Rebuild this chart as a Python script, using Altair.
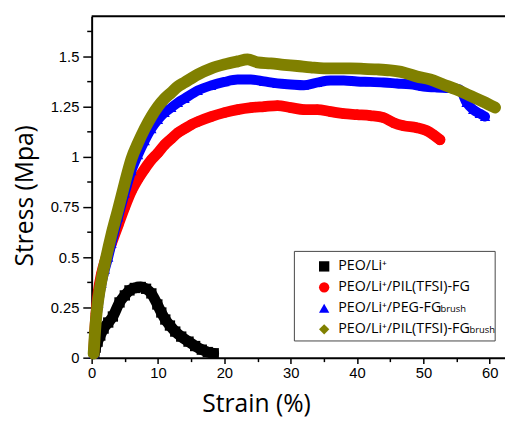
import altair as alt
import pandas as pd

# ---------------- data ----------------
series_keys = ["PEO", "PIL-FG", "PEG-FG-brush", "PIL-FG-brush"]
series_labels = [
    "PEO/Li\u207a",
    "PEO/Li\u207a/PIL(TFSI)-FG",
    "PEO/Li\u207a/PEG-FG",
    "PEO/Li\u207a/PIL(TFSI)-FG",
]
series_colors = ["#000000", "#ff0000", "#0000ff", "#808000"]
series_shapes = ["square", "circle", "triangle-up", "diamond"]
subscript_labels = ["brush", "brush"]

strain_peo = [0.4, 0.6, 0.9, 1.3, 1.8, 2.5, 3.2, 4.2, 5.0, 5.7, 6.5, 7.4, 8.2, 9.0,
              9.9, 10.5, 11.1, 11.8, 12.6, 13.5, 14.6, 15.6, 16.6, 17.5, 18.4]
stress_peo = [0.02, 0.05, 0.08, 0.11, 0.145, 0.175, 0.205, 0.275, 0.31, 0.335, 0.347,
              0.352, 0.343, 0.32, 0.265, 0.225, 0.19, 0.16, 0.13, 0.105, 0.08, 0.058,
              0.04, 0.028, 0.022]

strain_pil = [0.3, 0.45, 0.65, 1.0, 1.5, 2.0, 3.0, 4.0, 5.0, 6.0, 7.0, 8.0, 9.0, 10.0,
              11.0, 12.0, 13.0, 14.0, 15.0, 16.0, 18.0, 20.0, 22.0, 24.0, 26.0, 28.0,
              30.0, 32.0, 34.0, 36.0, 38.0, 40.0, 42.0, 44.0, 45.5, 47.0, 49.0, 50.5,
              51.5, 52.5]
stress_pil = [0.02, 0.12, 0.22, 0.33, 0.42, 0.48, 0.57, 0.66, 0.75, 0.83, 0.89, 0.94,
              0.985, 1.02, 1.06, 1.09, 1.12, 1.14, 1.16, 1.175, 1.2, 1.22, 1.235, 1.245,
              1.25, 1.255, 1.245, 1.235, 1.235, 1.225, 1.215, 1.21, 1.205, 1.195, 1.17,
              1.155, 1.145, 1.13, 1.11, 1.085]

strain_peg = [0.3, 0.45, 0.65, 1.0, 1.5, 2.0, 2.5, 3.0, 4.0, 5.0, 6.0, 7.0, 8.0, 9.0,
              10.0, 11.0, 12.0, 13.0, 14.0, 16.0, 18.0, 20.0, 22.0, 24.0, 26.0, 28.0,
              30.0, 32.0, 34.0, 36.0, 38.0, 40.0, 42.0, 44.0, 46.0, 48.0, 50.0, 52.0,
              54.0, 55.5, 56.5, 57.5, 58.5, 59.3]
stress_peg = [0.02, 0.09, 0.17, 0.27, 0.37, 0.44, 0.5, 0.57, 0.7, 0.82, 0.93, 1.01,
              1.08, 1.14, 1.185, 1.22, 1.245, 1.27, 1.29, 1.33, 1.355, 1.373, 1.385,
              1.385, 1.375, 1.365, 1.36, 1.356, 1.37, 1.38, 1.38, 1.375, 1.373, 1.37,
              1.365, 1.36, 1.35, 1.345, 1.342, 1.335, 1.27, 1.235, 1.215, 1.2]

strain_pilb = [0.3, 0.45, 0.65, 1.0, 1.5, 2.2, 3.0, 4.0, 5.0, 6.0, 7.0, 8.0, 9.0, 10.0,
               11.0, 12.0, 13.0, 14.0, 16.0, 18.0, 20.0, 22.0, 23.5, 25.0, 27.0, 29.0,
               31.0, 33.0, 35.0, 37.0, 39.0, 41.0, 43.0, 45.0, 47.0, 49.0, 51.0, 53.0,
               55.0, 57.0, 59.0, 60.8]
stress_pilb = [0.02, 0.1, 0.19, 0.29, 0.39, 0.5, 0.615, 0.74, 0.87, 0.99, 1.07, 1.14,
               1.2, 1.25, 1.29, 1.32, 1.35, 1.37, 1.41, 1.44, 1.46, 1.475, 1.485, 1.47,
               1.465, 1.458, 1.452, 1.445, 1.44, 1.44, 1.44, 1.438, 1.435, 1.43, 1.42,
               1.4, 1.385, 1.36, 1.335, 1.305, 1.275, 1.245]

x_major = [0, 10, 20, 30, 40, 50, 60]
x_minor = [5, 15, 25, 35, 45, 55]
y_major = [0, 0.25, 0.5, 0.75, 1, 1.25, 1.5]
y_minor = [0.125, 0.375, 0.625, 0.875, 1.125, 1.375, 1.625]
X_MAX = 62.3
Y_MAX = 1.7

strains = [strain_peo, strain_pil, strain_peg, strain_pilb]
stresses = [stress_peo, stress_pil, stress_peg, stress_pilb]
line_widths = [11, 11, 10, 12]

frames = [
    pd.DataFrame({"strain": s, "stress": t, "series": k})
    for s, t, k in zip(strains, stresses, series_keys)
]

# legend label text mapped from the series keys
label_expr = "'" + series_labels[-1] + "'"
for k, lab in reversed(list(zip(series_keys[:-1], series_labels[:-1]))):
    label_expr = f"datum.value == '{k}' ? '{lab}' : ({label_expr})"

# ---------------- chart ----------------
xscale = alt.Scale(domain=[0, X_MAX], nice=False, zero=False)
yscale = alt.Scale(domain=[0, Y_MAX], nice=False)

main_x_axis = alt.Axis(
    values=x_major, tickSize=6, tickWidth=1.5, tickColor="black",
    domainColor="black", domainWidth=2, grid=False,
    labelFont="Liberation Sans", labelFontSize=15, labelColor="black",
    labelPadding=2, labelFlush=False, labelOverlap=False,
    title="Strain (%)", titleFont="Open Sans", titleFontSize=25,
    titleFontWeight="normal", titleColor="black",
    titleX=167, titleY=55, titleBaseline="alphabetic", titleAlign="center",
    orient="bottom",
)
main_y_axis = alt.Axis(
    values=y_major, labelExpr="'' + datum.value", tickSize=9, tickWidth=1.5,
    tickColor="black", domainColor="black", domainWidth=2, grid=False,
    labelFont="Liberation Sans", labelFontSize=15, labelColor="black",
    labelPadding=4, labelFlush=False, labelOverlap=False,
    title="Stress (Mpa)", titleFont="Open Sans", titleFontSize=25,
    titleFontWeight="normal", titleColor="black",
    titleX=-60, titleY=182, titleBaseline="alphabetic", titleAlign="center",
    titleAngle=270, orient="left",
)
minor_x_axis = alt.Axis(
    values=x_minor, tickSize=4, tickWidth=1.5, tickColor="black",
    labels=False, domain=False, grid=False, title=None, orient="bottom",
)
minor_y_axis = alt.Axis(
    values=y_minor, tickSize=5, tickWidth=1.5, tickColor="black",
    labels=False, domain=False, grid=False, title=None, orient="left",
)

legend = alt.Legend(
    orient="none", legendX=206, legendY=239, title=None,
    padding=8, labelExpr=label_expr,
    symbolSize=110, symbolStrokeWidth=0, symbolOffset=15,
    labelOffset=7, labelFont="Open Sans", labelFontSize=14.5,
    labelColor="black", rowPadding=6.3, labelLimit=400,
)
color_enc = alt.Color("series:N", scale=alt.Scale(domain=series_keys, range=series_colors), legend=legend)
shape_enc = alt.Shape("series:N", scale=alt.Scale(domain=series_keys, range=series_shapes), legend=legend)

layers = []
for i, df in enumerate(frames):
    xa = main_x_axis if i == 0 else None
    ya = main_y_axis if i == 0 else None
    line = alt.Chart(df).mark_line(
        color=series_colors[i], strokeWidth=line_widths[i], interpolate="monotone",
        strokeCap="round", strokeJoin="round",
    ).encode(
        x=alt.X("strain:Q", scale=xscale, axis=xa),
        y=alt.Y("stress:Q", scale=yscale, axis=ya),
    )
    pts = alt.Chart(df).mark_point(filled=True, size=110, opacity=1).encode(
        x=alt.X("strain:Q", scale=xscale, axis=None),
        y=alt.Y("stress:Q", scale=yscale, axis=None),
        color=color_enc,
        shape=shape_enc,
    )
    layers += [line, pts]

top_rule = alt.Chart(pd.DataFrame({"v": [Y_MAX]})).mark_rule(
    color="black", strokeWidth=2
).encode(y=alt.Y("v:Q", scale=yscale, axis=None))

minor = alt.Chart(frames[0]).mark_point(opacity=0, size=1).encode(
    x=alt.X("strain:Q", scale=xscale, axis=minor_x_axis),
    y=alt.Y("stress:Q", scale=yscale, axis=minor_y_axis),
)

# legend frame (decoration)
legend_box = alt.Chart(pd.DataFrame({"b": [0]})).mark_rect(
    fillOpacity=0, stroke="#444444", strokeWidth=1
).encode(
    x=alt.value(206), x2=alt.value(410), y=alt.value(239), y2=alt.value(330)
)

sub_pos = [(354.5, 301), (384, 322)]
subs = []
for lab, (sx, sy) in zip(subscript_labels, sub_pos):
    subs.append(
        alt.Chart(pd.DataFrame({"t": [lab]})).mark_text(
            align="left", baseline="alphabetic", font="Open Sans", fontSize=9.5,
            color="black",
        ).encode(x=alt.value(sx), y=alt.value(sy), text="t:N")
    )

chart = alt.layer(*layers, top_rule, minor, legend_box, *subs).resolve_axis(
    x="independent", y="independent"
).properties(
    width=420, height=347,
    autosize=alt.AutoSizeParams(type="none"),
    padding={"left": 85, "top": 5, "right": 0, "bottom": 60},
    background="white",
).configure_view(stroke=None)

chart.save("out.html", embed_options={"renderer": "svg", "actions": False})
